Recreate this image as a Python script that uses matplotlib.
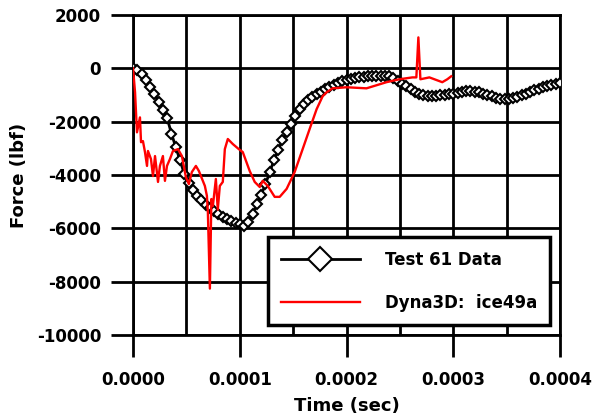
import numpy as np
import matplotlib
matplotlib.use("Agg")
import matplotlib.pyplot as plt
from matplotlib.ticker import MultipleLocator, FuncFormatter

# Test 61 measured force, sampled every 4 microseconds
test_time_us = [0, 4, 8, 12, 16, 20, 24, 28, 32, 36, 40, 44, 48, 52, 56, 60, 64, 68, 72, 76,
                80, 84, 88, 92, 96, 100, 104, 108, 112, 116, 120, 124, 128, 132, 136, 140, 144,
                148, 152, 156, 160, 164, 168, 172, 176, 180, 184, 188, 192, 196, 200, 204, 208,
                212, 216, 220, 224, 228, 232, 236, 240, 244, 248, 252, 256, 260, 264, 268, 272,
                276, 280, 284, 288, 292, 296, 300, 304, 308, 312, 316, 320, 324, 328, 332, 336,
                340, 344, 348, 352, 356, 360, 364, 368, 372, 376, 380, 384, 388, 392, 396, 400]
test_force = [0, -80, -220, -420, -700, -950, -1250, -1580, -1870, -2450, -2950, -3450, -3950,
              -4300, -4550, -4780, -4950, -5120, -5250, -5350, -5450, -5560, -5650, -5720, -5800,
              -5850, -5900, -5750, -5450, -5100, -4750, -4350, -3900, -3450, -3050, -2700, -2390,
              -2100, -1800, -1530, -1350, -1200, -1080, -970, -880, -780, -700, -620, -550, -490,
              -440, -400, -370, -340, -320, -300, -290, -280, -270, -270, -300, -380, -470, -570,
              -680, -780, -870, -950, -1010, -1040, -1050, -1040, -1010, -990, -970, -960, -940,
              -900, -860, -850, -870, -900, -950, -1000, -1050, -1100, -1140, -1160, -1150, -1120,
              -1070, -1010, -950, -890, -820, -760, -710, -660, -620, -580, -540]

# Dyna3D ice49a simulation
sim_time_us = [0, 1.9, 3.7, 6.5, 7.5, 9.3, 11.2, 13.1, 14.0, 16.8, 18.7, 20.6, 23.4, 25.2, 28.0,
               29.9, 31.8, 34.6, 37.4, 42.1, 45.8, 49.5, 52.3, 55.1, 58.9, 61.7, 65.4, 67.3, 69.2,
               70.1, 72.0, 73.4, 74.8, 77.6, 79.4, 81.3, 84.1, 86.0, 88.8, 93.5, 99.1, 102.8,
               109.3, 114.0, 118.7, 121.5, 126.2, 132.7, 137.4, 143.9, 151.4, 158.9, 165.4, 172.0,
               177.6, 181.3, 186.9, 200.0, 218.7, 237.4, 249.5, 261.7, 265.4, 267.3, 269.2, 277.6,
               289.7, 294.4, 298.0]
sim_force = [0, -900, -2400, -1840, -2770, -2730, -3140, -3660, -3100, -3400, -4040, -3290, -4260,
             -3660, -3290, -4220, -3660, -3400, -3100, -3030, -3290, -4075, -4340, -3890, -3660,
             -3850, -4220, -4410, -4780, -5380, -8260, -4900, -5160, -4150, -5300, -4410, -4260,
             -3030, -2650, -2840, -3030, -3140, -3850, -4260, -4450, -4220, -4410, -4820, -4820,
             -4520, -3890, -3030, -2280, -1530, -1050, -900, -750, -710, -750, -520, -410, -340,
             -340, 1160, -410, -340, -520, -410, -300]

x_ticks = [0.0, 0.0001, 0.0002, 0.0003, 0.0004]
y_ticks = [-10000, -8000, -6000, -4000, -2000, 0, 2000]

test_t = np.array(test_time_us) * 1e-6
sim_t = np.array(sim_time_us) * 1e-6

plt.rcParams["font.family"] = ["DejaVu Sans"]
plt.rcParams["font.weight"] = "bold"
plt.rcParams["axes.unicode_minus"] = False

fig = plt.figure(figsize=(5.92, 4.2), dpi=100)
ax = fig.add_axes([0.2247, 0.2024, 0.7213, 0.7619])

ax.plot(test_t, test_force, color="black", linewidth=2, marker="D", markersize=5.5,
        markerfacecolor="white", markeredgecolor="black", markeredgewidth=1.5,
        label="Test 61 Data", zorder=3)
ax.plot(sim_t, sim_force, color="red", linewidth=1.7, label="Dyna3D:  ice49a", zorder=4)

ax.set_xlim(0, 0.0004)
ax.set_ylim(-10000, 2000)
ax.set_xticks(x_ticks)
ax.set_yticks(y_ticks)
ax.xaxis.set_minor_locator(MultipleLocator(0.00005))
ax.xaxis.set_major_formatter(FuncFormatter(lambda v, p: f"{v:.4f}"))
ax.yaxis.set_major_formatter(FuncFormatter(lambda v, p: f"{v:.0f}"))

ax.tick_params(axis="both", which="major", direction="out", length=16, width=2,
               labelsize=12)
ax.tick_params(axis="x", which="major", pad=10)
ax.tick_params(axis="y", which="major", pad=7)
ax.tick_params(axis="x", which="minor", length=0)

ax.grid(True, axis="y", which="major", color="black", linewidth=2)
ax.grid(True, axis="x", which="both", color="black", linewidth=2)
ax.set_axisbelow(True)
for spine in ax.spines.values():
    spine.set_linewidth(2)

ax.set_xlabel("Time (sec)", fontsize=13, fontweight="bold", labelpad=6)
ax.set_ylabel("Force (lbf)", fontsize=13, fontweight="bold", labelpad=6)

leg = ax.legend(loc="lower left", bbox_to_anchor=(0.316, 0.031), borderaxespad=0,
                fontsize=12, handlelength=4.7, handletextpad=1.5, labelspacing=1.5,
                borderpad=0.8, markerscale=2.2, fancybox=False, framealpha=1,
                edgecolor="black")
leg.get_frame().set_linewidth(2.5)
for txt in leg.get_texts():
    txt.set_fontweight("bold")

fig.savefig("out.png", dpi=100, facecolor="white")
